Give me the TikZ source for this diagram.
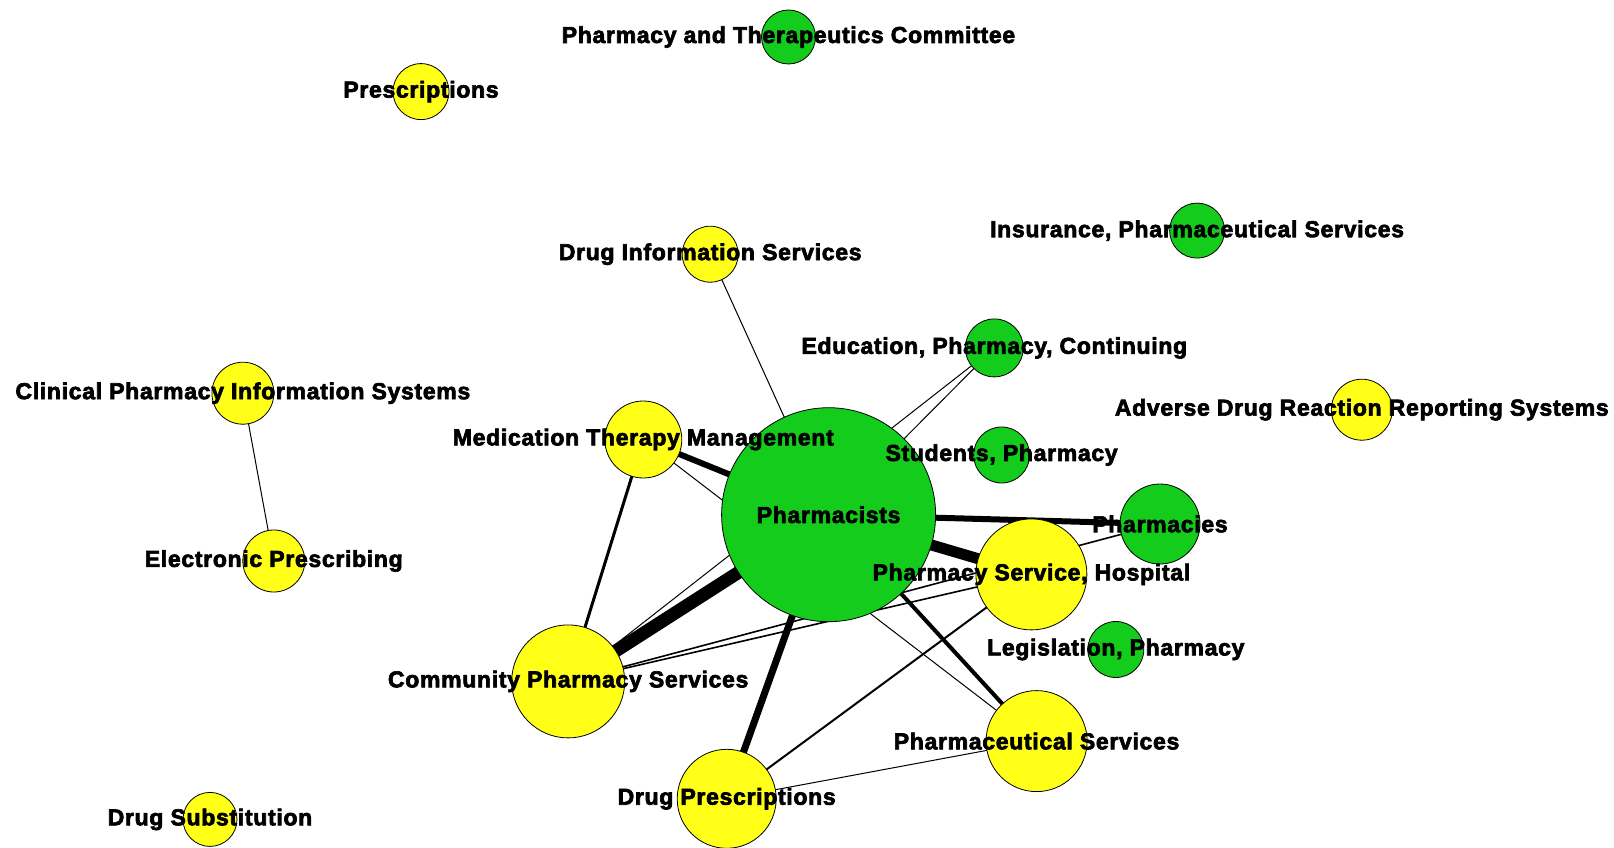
\documentclass[tikz,border=0pt]{standalone}
\usepackage{fontspec}
\setmainfont{Liberation Sans}
\newfontfamily\lblfont[FakeBold=3,LetterSpace=3]{Liberation Sans Bold}
\pgfdeclarelayer{bg}
\pgfdeclarelayer{fg}
\pgfsetlayers{bg,main,fg}
\definecolor{ngreen}{RGB}{20,204,28}
\definecolor{nyellow}{RGB}{255,255,24}
\begin{document}
\begin{tikzpicture}[x=1pt,y=-1pt,
  vtx/.style={circle,draw=black,line width=0.8pt,inner sep=0pt,minimum size=#1},
  gv/.style={vtx=#1,fill=ngreen},
  yv/.style={vtx=#1,fill=nyellow},
  lbl/.style={font=\lblfont\fontsize{23}{23}\selectfont,inner sep=0pt,text=black},
  e/.style={draw=black,line width=#1},
  e/.default=1pt]
\useasboundingbox (0,0) rectangle (1614,848);
% vertices
\node[gv=214] (ph) at (828.6,514.7) {};
\node[yv=77] (mtm) at (643.3,439.5) {};
\node[yv=113] (cps) at (568.2,681.4) {};
\node[yv=99] (dp) at (726.7,798.8) {};
\node[yv=111] (psh) at (1031.4,574.4) {};
\node[yv=101] (pserv) at (1036.6,741.1) {};
\node[gv=80] (phs) at (1160,524) {};
\node[gv=56] (leg) at (1115.8,649.5) {};
\node[gv=56] (stu) at (1001.6,455) {};
\node[gv=58] (edu) at (994.3,347.9) {};
\node[gv=55] (ins) at (1197.1,230.6) {};
\node[yv=61] (adr) at (1361.8,409.7) {};
\node[yv=56] (dis) at (710.2,254.2) {};
\node[yv=62] (cpis) at (242.9,393.2) {};
\node[yv=62] (ep) at (273.8,561) {};
\node[yv=54] (ds) at (210,819.4) {};
\node[yv=56] (pre) at (421,91.6) {};
\node[gv=54] (ptc) at (788.5,37) {};
% edges
\begin{pgfonlayer}{bg}
\draw[e] (ph.center) -- (dis.center);
\draw[e] (ph.center) -- (edu.center);
\draw[e] (cps.center) -- (edu.center);
\draw[e=6pt] (mtm.center) -- (ph.center);
\draw[e] (mtm.center) -- (pserv.center);
\draw[e=3pt] (mtm.center) -- (cps.center);
\draw[e=13pt] (cps.center) -- (ph.center);
\draw[e=6pt] (ph.center) -- (phs.center);
\draw[e=11pt] (ph.center) -- (psh.center);
\draw[e=7pt] (ph.center) -- (dp.center);
\draw[e=4pt] (ph.center) -- (pserv.center);
\draw[e=1.6pt] (cps.center) -- (phs.center);
\draw[e=1.6pt] (cps.center) -- (psh.center);
\draw[e=2pt] (dp.center) -- (psh.center);
\draw[e] (dp.center) -- (pserv.center);
\draw[e] (cpis.center) -- (ep.center);
\end{pgfonlayer}
% labels
\begin{pgfonlayer}{fg}
\node[lbl] (lph) at (ph) {Pharmacists};
\node[lbl] (lmtm) at (mtm) {Medication Therapy Management};
\node[lbl] (lcps) at (cps) {Community Pharmacy Services};
\node[lbl] (ldp) at (dp) {Drug Prescriptions};
\node[lbl] (lpsh) at (psh) {Pharmacy Service, Hospital};
\node[lbl] (lpserv) at (pserv) {Pharmaceutical Services};
\node[lbl] (lphs) at (phs) {Pharmacies};
\node[lbl] (lleg) at (leg) {Legislation, Pharmacy};
\node[lbl] (lstu) at (stu) {Students, Pharmacy};
\node[lbl] (ledu) at (edu) {Education, Pharmacy, Continuing};
\node[lbl] (lins) at (ins) {Insurance, Pharmaceutical Services};
\node[lbl] (ladr) at (adr) {Adverse Drug Reaction Reporting Systems};
\node[lbl] (ldis) at (dis) {Drug Information Services};
\node[lbl] (lcpis) at (cpis) {Clinical Pharmacy Information Systems};
\node[lbl] (lep) at (ep) {Electronic Prescribing};
\node[lbl] (lds) at (ds) {Drug Substitution};
\node[lbl] (lpre) at (pre) {Prescriptions};
\node[lbl] (lptc) at (ptc) {Pharmacy and Therapeutics Committee};
\end{pgfonlayer}
\end{tikzpicture}
\end{document}
